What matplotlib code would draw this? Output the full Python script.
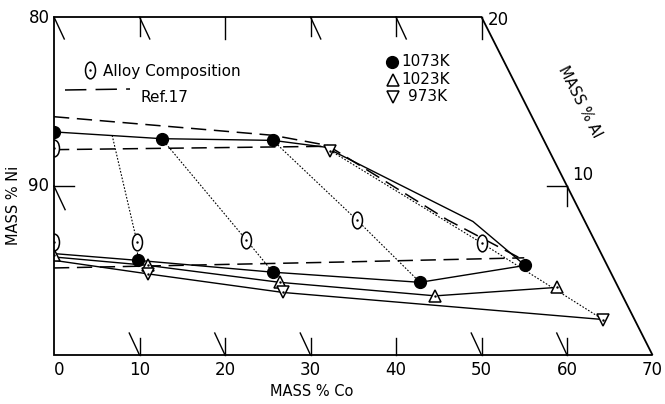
import matplotlib
matplotlib.use("Agg")
import matplotlib.pyplot as plt
from matplotlib.path import Path
from matplotlib.patches import Polygon, Rectangle
from matplotlib.transforms import Affine2D

plt.rcParams['font.family'] = ['DejaVu Sans']

# ---------------- data (x = mass % Co, y = mass % Al) ----------------
# measured points
co_1073 = [0, 12.6, 25.6, 9.8, 25.6, 42.8, 55.1]
al_1073 = [13.2, 12.8, 12.7, 5.6, 4.9, 4.3, 5.3]
co_1023 = [0, 11.0, 26.4, 44.6, 58.8]
al_1023 = [5.9, 5.3, 4.3, 3.5, 4.0]
co_973 = [11.0, 26.8, 64.2, 32.3]
al_973 = [4.8, 3.7, 2.1, 12.1]
co_alloy = [0, 0, 9.7, 22.5, 35.4, 50.1]
al_alloy = [12.25, 6.7, 6.7, 6.8, 8.0, 6.6]

# phase boundaries (solid)
up1073_co = [0, 12.6, 25.6, 31.7, 49.0, 55.1]
up1073_al = [13.2, 12.8, 12.7, 12.3, 7.9, 5.3]
lo1073_co = [0, 9.8, 25.6, 42.8, 55.1]
lo1073_al = [6.0, 5.6, 4.9, 4.3, 5.3]
lo1023_co = [0, 11.0, 26.4, 44.6, 58.8]
lo1023_al = [5.8, 5.3, 4.3, 3.5, 4.0]
lo973_co = [0, 11.0, 26.8, 64.2]
lo973_al = [5.6, 4.8, 3.7, 2.1]

# Ref.17 boundaries (long dashes)
ref_a_co = [0, 25.6, 32.0, 46.0, 55.0]
ref_a_al = [14.1, 13.0, 12.4, 8.0, 5.6]
ref_b_co = [0, 32.0]
ref_b_al = [12.15, 12.35]
ref_c_co = [0, 33.5, 55.0]
ref_c_al = [5.15, 5.5, 5.75]

# tie lines (dotted)
tie_co = [[6.8, 9.7, 9.8], [12.6, 22.5, 25.6], [25.6, 35.4, 42.8], [32.3, 50.1, 64.2]]
tie_al = [[13.0, 6.7, 5.6], [12.8, 6.8, 4.9], [12.7, 8.0, 4.3], [12.1, 6.6, 2.1]]

co_ticks = [0, 10, 20, 30, 40, 50, 60, 70]
ni_ticks = ['80', '90']
al_ticks = ['20', '10']

# ---------------- layout ----------------
W, H = 665, 404
X0, SX = 54.0, 8.55     # pixel x of Co=0, px per %Co
Y0, SY = 355.0, 16.9    # pixel y of Al=0, px per %Al


def px(x, y):
    return (x - X0) / SX, (Y0 - y) / SY


fig = plt.figure(figsize=(W / 100, H / 100), dpi=100)
ax = fig.add_axes([0, 0, 1, 1])
ax.set_xlim(px(0, 0)[0], px(W, 0)[0])
ax.set_ylim(px(0, H)[1], px(0, 0)[1])
ax.axis('off')

outline = Polygon([(0, 0), (70, 0), (50, 20), (0, 20)], closed=True,
                  fill=False, ec='black', lw=1.3, zorder=8)
ax.add_patch(outline)
# mask so that markers on the Co = 0 edge show only their inner half
ax.add_patch(Rectangle((-7, 0.6), 7, 18.8, fc='white', ec='none', zorder=7))

# ticks (ternary style)
tk = dict(color='black', lw=1.0, zorder=8)
for c in [10, 20, 30, 50, 60]:
    ax.plot([c, c], [0, 1.0], **tk)
    ax.plot([c, c - 1.2], [0, 1.3], **tk)
ax.plot([40, 40], [0, 1.0], **tk)
for c in [10, 30, 40]:
    ax.plot([c, c], [20, 18.9], **tk)
    ax.plot([c, c + 1.2], [20, 18.7], **tk)
for c in [20, 50]:
    ax.plot([c, c], [20, 18.7], **tk)
ax.plot([0, 1.2], [20, 18.7], **tk)
ax.plot([0, 2.3], [10, 10], **tk)
ax.plot([0, 1.3], [10, 8.6], **tk)
ax.plot([60, 57.7], [10, 10], **tk)
ax.plot([60, 60], [10, 8.8], **tk)

# tick labels
fs = 12
for c in co_ticks:
    ax.text(c + (0.6 if c == 0 else 0), -0.9, str(c), ha='center', va='center', fontsize=fs, zorder=9)
ax.text(*px(50, 18), ni_ticks[0], ha='right', va='center', fontsize=fs, zorder=9)
ax.text(*px(49, 186), ni_ticks[1], ha='right', va='center', fontsize=fs, zorder=9)
ax.text(*px(488, 20), al_ticks[0], ha='left', va='center', fontsize=fs, zorder=9)
ax.text(*px(572, 175), al_ticks[1], ha='left', va='center', fontsize=fs, zorder=9)

# axis titles
ax.text(*px(312, 391), 'MASS % Co', ha='center', va='center', fontsize=10.5, zorder=9)
ax.text(*px(14, 205), 'MASS % Ni', ha='center', va='center', rotation=90, fontsize=10.5, zorder=9)
ax.text(*px(580, 102), 'MASS % Al', ha='center', va='center', rotation=-63, fontsize=10.5, zorder=9)

# lines
sl = dict(color='black', lw=1.0, zorder=3)
ax.plot(up1073_co, up1073_al, **sl)
ax.plot(lo1073_co, lo1073_al, **sl)
ax.plot(lo1023_co, lo1023_al, **sl)
ax.plot(lo973_co, lo973_al, **sl)
dl = dict(color='black', lw=1.1, ls=(0, (10, 5)), zorder=3)
ax.plot(ref_a_co, ref_a_al, **dl)
ax.plot(ref_b_co, ref_b_al, **dl)
ax.plot(ref_c_co, ref_c_al, **dl)
for tc, ta in zip(tie_co, tie_al):
    ax.plot(tc, ta, color='black', lw=0.8, ls=(0, (1.5, 1.5)), zorder=2)

# markers
ell = Path(Affine2D().scale(0.6, 1.0).transform(Path.unit_circle().vertices),
           Path.unit_circle().codes)

ax.plot(co_1073, al_1073, 'o', ms=8.5, mfc='black', mec='black', zorder=6)
ax.plot(co_1023, al_1023, '^', ms=8, mfc='white', mec='black', mew=1.1, zorder=6)
ax.plot(co_973, al_973, 'v', ms=8, mfc='white', mec='black', mew=1.1, zorder=6)
ax.plot(co_alloy, al_alloy, marker=ell, ls='none', ms=12, mfc='white', mec='black', mew=1.1, zorder=6)
ax.plot(co_1023 + co_973 + co_alloy, al_1023 + al_973 + al_alloy, '.', ms=1.5, color='black', zorder=6.5, ls='none')

# legend
ax.plot(*px(90, 70), marker=ell, ms=12, mfc='white', mec='black', mew=1.1, zorder=6)
ax.plot(*px(90, 70), '.', ms=1.5, color='black', zorder=7)
ax.text(*px(103, 72), 'Alloy Composition', ha='left', va='center', fontsize=11)
lx = [px(65, 90)[0], px(130, 89)[0]]
ly = [px(65, 90)[1], px(130, 89)[1]]
ax.plot(lx, ly, color='black', lw=1.1, ls=(0, (14, 6)))
ax.text(*px(140, 98), 'Ref.17', ha='left', va='center', fontsize=11)

ax.plot(*px(392, 62), 'o', ms=8.5, color='black')
ax.text(*px(401, 62), '1073K', ha='left', va='center', fontsize=11)
ax.plot(*px(393, 80), '^', ms=8, mfc='white', mec='black', mew=1.1)
ax.text(*px(401, 80), '1023K', ha='left', va='center', fontsize=11)
ax.plot(*px(393, 97), 'v', ms=8, mfc='white', mec='black', mew=1.1)
ax.text(*px(408, 97), '973K', ha='left', va='center', fontsize=11)

fig.savefig('out.png', dpi=100)
